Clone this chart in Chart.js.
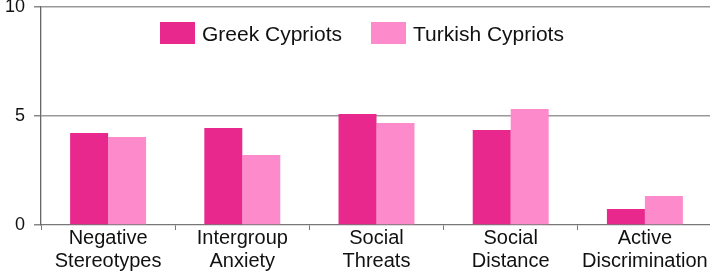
<!DOCTYPE html>
<html>
<head>
<meta charset="utf-8">
<script src="https://cdn.jsdelivr.net/npm/chart.js@4.4.0/dist/chart.umd.min.js"></script>
<style>
html,body{margin:0;padding:0;overflow:hidden;background:#fff;}
#wrap{position:relative;width:712px;height:277px;}
</style>
</head>
<body>
<div id="wrap"><canvas id="c"></canvas></div>
<script>
const categories = [["Negative","Stereotypes"],["Intergroup","Anxiety"],["Social","Threats"],["Social","Distance"],["Active","Discrimination"]];
const seriesNames = ["Greek Cypriots","Turkish Cypriots"];
const greekValues = [4.22, 4.45, 5.09, 4.36, 0.73];
const turkishValues = [4.04, 3.21, 4.68, 5.32, 1.33];
const yTicks = [0, 5, 10];
const colors = ["#E8288C", "#FD8ACB"];

const FONT = "'Liberation Sans', Arial, sans-serif";

const insideLegend = {
  id: 'insideLegend',
  afterDraw(chart) {
    const ctx = chart.ctx;
    const items = [
      {x: 160, text: chart.data.datasets[0].label, color: chart.data.datasets[0].backgroundColor},
      {x: 371, text: chart.data.datasets[1].label, color: chart.data.datasets[1].backgroundColor}
    ];
    ctx.save();
    ctx.font = "21px " + FONT;
    ctx.textBaseline = 'middle';
    ctx.textAlign = 'left';
    items.forEach(it => {
      ctx.fillStyle = it.color;
      ctx.fillRect(it.x, 22, 35, 22);
      ctx.fillStyle = '#111';
      ctx.fillText(it.text, it.x + 42, 35);
    });
    ctx.restore();
  }
};

new Chart(document.getElementById('c'), {
  type: 'bar',
  data: {
    labels: categories,
    datasets: [
      {label: seriesNames[0], data: greekValues, backgroundColor: colors[0], barPercentage: 1, categoryPercentage: 0.566},
      {label: seriesNames[1], data: turkishValues, backgroundColor: colors[1], barPercentage: 1, categoryPercentage: 0.566}
    ]
  },
  options: {
    responsive: true,
    maintainAspectRatio: false,
    animation: false,
    layout: {padding: {top: 7, right: 0, left: 0, bottom: 0}},
    plugins: {legend: {display: false}, tooltip: {enabled: false}},
    scales: {
      x: {
        offset: true,
        grid: {offset: true, drawOnChartArea: false, drawTicks: true, tickLength: 5, color: '#777'},
        border: {display: true, color: '#777', width: 1.3},
        ticks: {color: '#111', font: {family: FONT, size: 20, lineHeight: 1.15}, padding: -3, maxRotation: 0, minRotation: 0, autoSkip: false},
        afterFit(s) { s.height = 52; s.paddingLeft = 0; s.paddingRight = 0; }
      },
      y: {
        min: 0, max: 10,
        afterBuildTicks(s) { s.ticks = yTicks.map(v => ({value: v})); },
        grid: {color: (c) => c.tick && c.tick.value === 0 ? 'rgba(0,0,0,0)' : '#999', lineWidth: 1.5, tickLength: 7, tickColor: '#888'},
        border: {display: true, color: '#666', width: 1.3},
        ticks: {color: '#111', font: {family: FONT, size: 18}, padding: 9},
        afterFit(s) { s.width = 41; s.paddingTop = 0; s.paddingBottom = 0; }
      }
    }
  },
  plugins: [insideLegend]
});
</script>
</body>
</html>
